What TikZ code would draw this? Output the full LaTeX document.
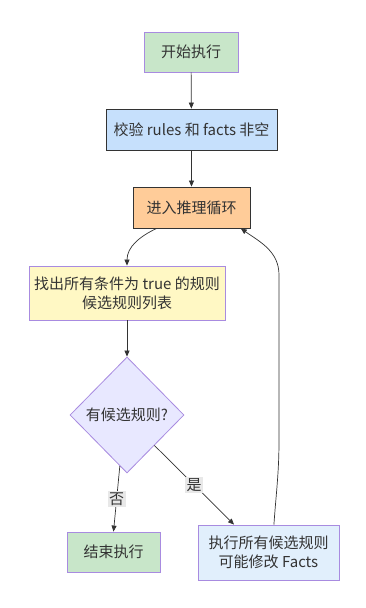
\documentclass[tikz,border=0pt]{standalone}
\usepackage{fontspec}
\usepackage{xcolor}
\usepackage{tikz}
\usetikzlibrary{arrows.meta,shapes.geometric}
\newfontfamily\cjk{Noto Sans CJK SC}

\definecolor{greenfill}{HTML}{C8E6C9}
\definecolor{bluefill}{HTML}{C6E0FC}
\definecolor{orangefill}{HTML}{FFCC99}
\definecolor{yellowfill}{HTML}{FFF8C4}
\definecolor{lilacfill}{HTML}{E8E8FF}
\definecolor{palefill}{HTML}{E1EFFC}
\definecolor{lilacline}{HTML}{A88BE0}
\definecolor{darkline}{HTML}{333333}
\definecolor{labelfill}{HTML}{E8E8E8}

\begin{document}
\begin{tikzpicture}[x=1pt, y=1pt,
  stepbox/.style={draw, line width=0.8pt, inner sep=0pt,
    align=center, font=\cjk\fontsize{15}{19}\selectfont, text=darkline},
  decbox/.style={diamond, draw=lilacline, line width=0.8pt, fill=lilacfill,
    inner sep=0pt, minimum width=114pt, minimum height=116pt,
    font=\cjk\fontsize{15}{19}\selectfont, text=darkline},
  flowar/.style={-{Triangle[length=6pt, width=5pt]}, line width=0.7pt, darkline},
  edgelab/.style={fill=labelfill, inner sep=1.5pt,
    font=\cjk\fontsize{15}{17}\selectfont, text=darkline},
]
\useasboundingbox (0,0) rectangle (366,608);

% ── Main column ──────────────────────────────────────────────────────────────
\node[stepbox, fill=greenfill, draw=lilacline, minimum width=94pt, minimum height=40pt]
  (start) at (191, 556) {开始执行};
\node[stepbox, fill=bluefill, draw=darkline, minimum width=171pt, minimum height=41pt]
  (validate) at (191.5, 478.5) {校验 rules 和 facts 非空};
\node[stepbox, fill=orangefill, draw=darkline, minimum width=117pt, minimum height=41pt]
  (infer) at (191.5, 400.5) {进入推理循环};
\node[stepbox, fill=yellowfill, draw=lilacline, minimum width=196pt, minimum height=54pt]
  (collect) at (127, 315) {找出所有条件为 true 的规则\\候选规则列表};
\node[decbox] (decide) at (127, 193) {有候选规则?};

% ── Outcomes ─────────────────────────────────────────────────────────────────
\node[stepbox, fill=greenfill, draw=lilacline, minimum width=93pt, minimum height=40pt]
  (stop) at (113.5, 56) {结束执行};
\node[stepbox, fill=palefill, draw=lilacline, minimum width=141pt, minimum height=55pt]
  (fire) at (268.5, 55.5) {执行所有候选规则\\可能修改 Facts};

% ── Connectors ───────────────────────────────────────────────────────────────
\draw[flowar] (start) -- (validate);
\draw[flowar] (validate) -- (infer);
\draw[flowar] (infer.-149) to[out=205, in=90] (collect.north);
\draw[flowar] (collect) -- (decide);
\draw[flowar] (decide.-98) -- node[edgelab] {否} (stop.north);
\draw[flowar] (decide.-48) -- node[edgelab] {是} (fire.141);

% ── Loop back ────────────────────────────────────────────────────────────────
\coordinate (loopup) at (279, 168);
\coordinate (looptop) at (279, 333);
\draw[flowar] (fire.79) to[out=86, in=-90] (loopup) -- (looptop)
  to[out=90, in=-35] (infer.-23);

\end{tikzpicture}
\end{document}
